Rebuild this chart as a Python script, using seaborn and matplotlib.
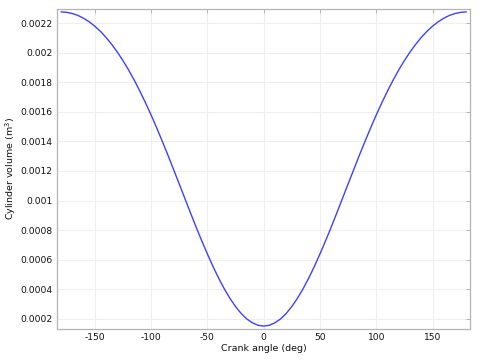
import matplotlib
matplotlib.use("Agg")
import matplotlib.pyplot as plt
import seaborn as sns
import pandas as pd

# Data
crank_angle = [-180, -175, -170, -165, -160, -155, -150, -145, -140, -135, -130, -125,
               -120, -115, -110, -105, -100, -95, -90, -85, -80, -75, -70, -65,
               -60, -55, -50, -45, -40, -35, -30, -25, -20, -15, -10, -5,
               0, 5, 10, 15, 20, 25, 30, 35, 40, 45, 50, 55,
               60, 65, 70, 75, 80, 85, 90, 95, 100, 105, 110, 115,
               120, 125, 130, 135, 140, 145, 150, 155, 160, 165, 170, 175, 180]
cyl_volume = [0.002277, 0.002274, 0.002266, 0.002253, 0.002234, 0.002210, 0.002180,
              0.002145, 0.002104, 0.002057, 0.002005, 0.001947, 0.001884, 0.001815,
              0.001741, 0.001662, 0.001579, 0.001491, 0.001400, 0.001306, 0.001209,
              0.001112, 0.001014, 0.000916, 0.000820, 0.000727, 0.000638, 0.000553,
              0.000474, 0.000402, 0.000338, 0.000282, 0.000235, 0.000198, 0.000172,
              0.000155, 0.000150, 0.000155, 0.000172, 0.000198, 0.000235, 0.000282,
              0.000338, 0.000402, 0.000474, 0.000553, 0.000638, 0.000727, 0.000820,
              0.000916, 0.001014, 0.001112, 0.001209, 0.001306, 0.001400, 0.001491,
              0.001579, 0.001662, 0.001741, 0.001815, 0.001884, 0.001947, 0.002005,
              0.002057, 0.002104, 0.002145, 0.002180, 0.002210, 0.002234, 0.002253,
              0.002266, 0.002274, 0.002277]

x_ticks = [-150, -100, -50, 0, 50, 100, 150]
y_ticks = [0.0002, 0.0004, 0.0006, 0.0008, 0.001, 0.0012, 0.0014, 0.0016, 0.0018, 0.002, 0.0022]
y_tick_labels = ["0.0002", "0.0004", "0.0006", "0.0008", "0.001", "0.0012",
                 "0.0014", "0.0016", "0.0018", "0.002", "0.0022"]

df = pd.DataFrame({"angle": crank_angle, "volume": cyl_volume})

sns.set_style("white")
plt.rcParams["font.family"] = ["DejaVu Sans"]

fig = plt.figure(figsize=(4.82, 3.63), dpi=100)
ax = fig.add_axes([57 / 482, 1 - 329 / 363, (470 - 57) / 482, (329 - 8.5) / 363])

sns.lineplot(data=df, x="angle", y="volume", ax=ax, color="#4040ff", linewidth=1.0)

ax.set_xlim(-183.6, 183.3)
ax.set_ylim(0.00013, 0.0023)
ax.set_xticks(x_ticks)
ax.set_xticklabels([str(t) for t in x_ticks])
ax.set_yticks(y_ticks)
ax.set_yticklabels(y_tick_labels)

ax.grid(True, color="#efefef", linewidth=0.8)
ax.set_axisbelow(True)
for s in ax.spines.values():
    s.set_visible(True)
    s.set_color("#b4b4b4")
    s.set_linewidth(0.9)

ax.tick_params(axis="both", direction="in", length=3, width=0.7, color="#b4b4b4",
               labelsize=6.6, labelcolor="#111111", top=True, right=True, pad=3)

ax.set_xlabel("Crank angle (deg)", fontsize=6.8, color="#111111", labelpad=1)
ax.set_ylabel("Cylinder volume (m$^3$)", fontsize=6.8, color="#111111", labelpad=2)

fig.savefig("out.png", dpi=100)
